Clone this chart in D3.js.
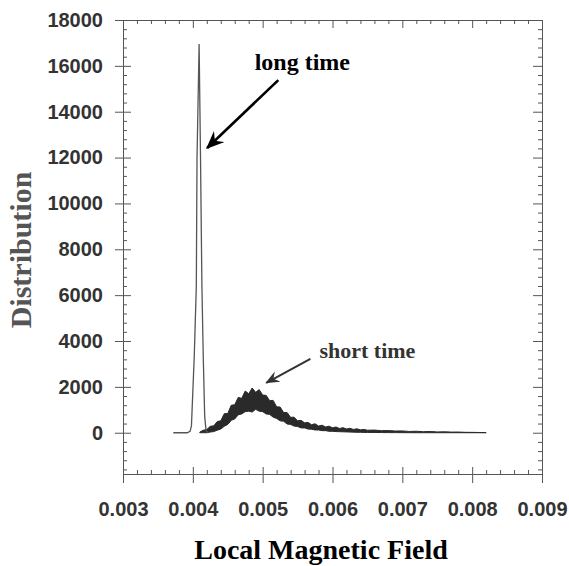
<!DOCTYPE html>
<html>
<head>
<meta charset="utf-8">
<script src="https://cdn.jsdelivr.net/npm/d3@7"></script>
<style>
  body { margin: 0; background: #fff; }
  svg { display: block; }
</style>
</head>
<body>
<div id="chart"></div>
<script>
// long time: a very narrow spike near 0.0041
const long_x = [0.00372, 0.00392, 0.00396, 0.00398, 0.00402, 0.00405, 0.00406, 0.00409, 0.00411, 0.00413, 0.00415, 0.00417, 0.00419, 0.00422];
const long_y = [0, 0, 60, 300, 3300, 6400, 12000, 16950, 12000, 6400, 3200, 700, 80, 0];

// short time: noisy broad peak, read as upper / lower edge of the band
const short_x = [0.00410, 0.00415, 0.00420, 0.00425, 0.00430, 0.00435, 0.00440, 0.00445, 0.00450, 0.00455,
  0.00460, 0.00465, 0.00470, 0.00475, 0.00480, 0.00485, 0.00490, 0.00495, 0.00500, 0.00505,
  0.00510, 0.00515, 0.00520, 0.00525, 0.00530, 0.00535, 0.00540, 0.00545, 0.00550, 0.00555,
  0.00560, 0.00565, 0.00570, 0.00575, 0.00580, 0.00585, 0.00590, 0.00595, 0.00600, 0.00605,
  0.00610, 0.00615, 0.00620, 0.00625, 0.00630, 0.00635, 0.00640, 0.00645, 0.00650,
  0.0066, 0.0067, 0.0068, 0.0069, 0.0070, 0.0071, 0.0072, 0.0073, 0.0074, 0.0075, 0.0076,
  0.0077, 0.0078, 0.0079, 0.0080, 0.0081, 0.0082];
const short_hi = [30, 110, 140, 280, 300, 490, 520, 830, 840, 1200,
  1220, 1540, 1500, 1820, 1700, 1950, 1760, 1880, 1640, 1630,
  1400, 1410, 1130, 1120, 880, 880, 670, 680, 520, 540,
  430, 450, 350, 390, 290, 330, 250, 285, 215, 250,
  185, 220, 165, 190, 145, 170, 125, 145, 110,
  115, 90, 95, 75, 80, 55, 65, 45, 55, 35, 40, 28, 30, 18, 16, 10, 5];
const short_lo = [0, 0, 0, 30, 50, 110, 160, 280, 360, 540,
  600, 780, 820, 920, 940, 900, 1020, 940, 920, 820,
  800, 680, 620, 520, 500, 380, 360, 290, 270, 210,
  210, 160, 150, 120, 120, 90, 90, 65, 60, 50,
  45, 40, 35, 30, 25, 20, 18, 15, 12,
  10, 8, 5, 5, 3, 2, 0, 0, 0, 0, 0, 0, 0, 0, 0, 0, 0];

const x_ticks = [0.003, 0.004, 0.005, 0.006, 0.007, 0.008, 0.009];
const x_minor = [0.0032, 0.0034, 0.0036, 0.0038, 0.0042, 0.0044, 0.0046, 0.0048, 0.0052, 0.0054, 0.0056, 0.0058,
  0.0062, 0.0064, 0.0066, 0.0068, 0.0072, 0.0074, 0.0076, 0.0078, 0.0082, 0.0084, 0.0086, 0.0088];
const y_ticks = [0, 2000, 4000, 6000, 8000, 10000, 12000, 14000, 16000, 18000];
const y_minor = [-1600, -1200, -800, -400, 400, 800, 1200, 1600, 2400, 2800, 3200, 3600, 4400, 4800, 5200, 5600,
  6400, 6800, 7200, 7600, 8400, 8800, 9200, 9600, 10400, 10800, 11200, 11600, 12400, 12800, 13200, 13600,
  14400, 14800, 15200, 15600, 16400, 16800, 17200, 17600];

// annotations, in data units
const labels = [
  { text: "long time", x: 0.005568, y: 15817, size: 24, color: "#000", from: [0.005224, 15380], to: [0.004205, 12418], width: 2.6 },
  { text: "short time", x: 0.0065, y: 3268, size: 22, color: "#333", from: [0.005683, 3224], to: [0.005052, 2179], width: 2 }
];

let graph_config = {
  width: 569,
  height: 566,
  margin: { left: 123, right: 27, top: 20, bottom: 92 }
};
let { width, height, margin } = graph_config;

let svg = d3.select("#chart").append("svg")
  .attr("width", width)
  .attr("height", height);

let x_scale = d3.scaleLinear()
  .domain([0.003, 0.009])
  .range([margin.left, width - margin.right]);
let y_scale = d3.scaleLinear()
  .domain([-1800, 18000])
  .range([height - margin.bottom, margin.top]);

let fmt_x = d3.format(".3f");
let tick_font = "bold 20px 'Liberation Sans', Arial, sans-serif";
let axis_color = "#555";

function style_axis(g) {
  g.selectAll("path.domain").attr("stroke", axis_color).attr("stroke-width", 1);
  g.selectAll(".tick line").attr("stroke", axis_color).attr("stroke-width", 1);
}

let x0 = height - margin.bottom, x1 = margin.top;
let y0 = margin.left, y1 = width - margin.right;

// bottom axis: labelled majors crossing the frame, minors inward
svg.append("g").attr("transform", `translate(0,${x0})`)
  .call(d3.axisBottom(x_scale).tickValues(x_ticks).tickSize(9).tickSizeOuter(0).tickPadding(19).tickFormat(fmt_x))
  .call(style_axis)
  .call(g => g.selectAll("text").style("font", tick_font).attr("fill", "#333"));
svg.append("g").attr("transform", `translate(0,${x0})`)
  .call(d3.axisBottom(x_scale).tickValues(x_ticks).tickSize(-7).tickSizeOuter(0).tickFormat(""))
  .call(style_axis);
svg.append("g").attr("transform", `translate(0,${x0})`)
  .call(d3.axisBottom(x_scale).tickValues(x_minor).tickSize(-4).tickSizeOuter(0).tickFormat(""))
  .call(style_axis);

// top axis
svg.append("g").attr("transform", `translate(0,${x1})`)
  .call(d3.axisTop(x_scale).tickValues(x_ticks).tickSize(-8).tickSizeOuter(0).tickFormat(""))
  .call(style_axis);
svg.append("g").attr("transform", `translate(0,${x1})`)
  .call(d3.axisTop(x_scale).tickValues(x_minor).tickSize(-4).tickSizeOuter(0).tickFormat(""))
  .call(style_axis);

// left axis
svg.append("g").attr("transform", `translate(${y0},0)`)
  .call(d3.axisLeft(y_scale).tickValues(y_ticks).tickSize(8).tickSizeOuter(0).tickPadding(12).tickFormat(d3.format("d")))
  .call(style_axis)
  .call(g => g.selectAll("text").style("font", tick_font).attr("fill", "#333"));
svg.append("g").attr("transform", `translate(${y0},0)`)
  .call(d3.axisLeft(y_scale).tickValues(y_ticks).tickSize(-8).tickSizeOuter(0).tickFormat(""))
  .call(style_axis);
svg.append("g").attr("transform", `translate(${y0},0)`)
  .call(d3.axisLeft(y_scale).tickValues(y_minor).tickSize(-4).tickSizeOuter(0).tickFormat(""))
  .call(style_axis);

// right axis
svg.append("g").attr("transform", `translate(${y1},0)`)
  .call(d3.axisRight(y_scale).tickValues(y_ticks).tickSize(-9).tickSizeOuter(0).tickFormat(""))
  .call(style_axis);
svg.append("g").attr("transform", `translate(${y1},0)`)
  .call(d3.axisRight(y_scale).tickValues(y_minor).tickSize(-4).tickSizeOuter(0).tickFormat(""))
  .call(style_axis);

// short time band
let short_data = short_x.map((x, i) => ({ x, hi: short_hi[i], lo: short_lo[i] }));
svg.append("path")
  .datum(short_data)
  .attr("fill", "#2a2a2a")
  .attr("stroke", "#2a2a2a")
  .attr("stroke-width", 1)
  .attr("d", d3.area()
    .x(d => x_scale(d.x))
    .y0(d => y_scale(d.lo))
    .y1(d => y_scale(d.hi)));

// long time spike
let long_data = long_x.map((x, i) => ({ x, y: long_y[i] }));
svg.append("path")
  .datum(long_data)
  .attr("fill", "none")
  .attr("stroke", "#555")
  .attr("stroke-width", 1.3)
  .attr("d", d3.line().x(d => x_scale(d.x)).y(d => y_scale(d.y)));

// arrows
let defs = svg.append("defs");
labels.forEach((l, i) => {
  defs.append("marker")
    .attr("id", "arrow" + i)
    .attr("viewBox", "0 0 12 10")
    .attr("refX", 11).attr("refY", 5)
    .attr("markerWidth", 7).attr("markerHeight", 6)
    .attr("markerUnits", "strokeWidth")
    .attr("orient", "auto")
    .append("path")
    .attr("d", "M0,0 L12,5 L0,10 L4,5 Z")
    .attr("fill", l.color);

  svg.append("line")
    .attr("x1", x_scale(l.from[0])).attr("y1", y_scale(l.from[1]))
    .attr("x2", x_scale(l.to[0])).attr("y2", y_scale(l.to[1]))
    .attr("stroke", l.color)
    .attr("stroke-width", l.width)
    .attr("marker-end", `url(#arrow${i})`);

  svg.append("text")
    .attr("x", x_scale(l.x))
    .attr("y", y_scale(l.y))
    .attr("text-anchor", "middle")
    .style("font", `bold ${l.size}px 'Liberation Serif', 'Times New Roman', serif`)
    .attr("fill", l.color)
    .text(l.text);
});

// axis titles
svg.append("text")
  .attr("transform", "translate(31,250) rotate(-90)")
  .attr("text-anchor", "middle")
  .style("font", "bold 30px 'Liberation Serif', 'Times New Roman', serif")
  .attr("fill", "#555")
  .text("Distribution");

svg.append("text")
  .attr("x", 321)
  .attr("y", 559)
  .attr("text-anchor", "middle")
  .style("font", "bold 28px 'Liberation Serif', 'Times New Roman', serif")
  .attr("fill", "#000")
  .text("Local Magnetic Field");
</script>
</body>
</html>
